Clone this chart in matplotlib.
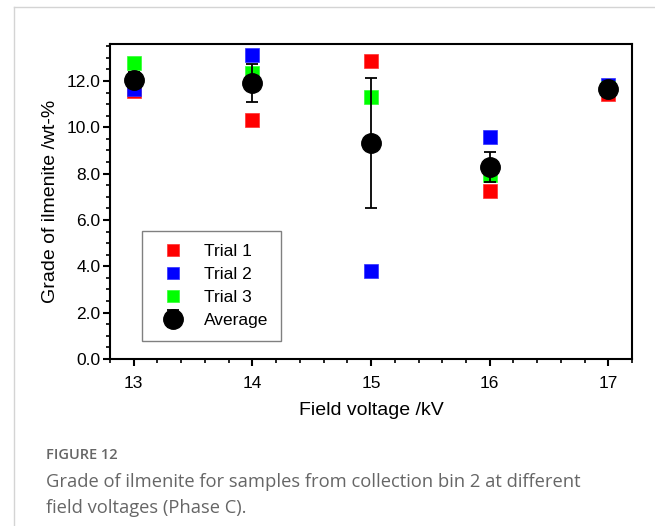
import matplotlib.pyplot as plt
from matplotlib.lines import Line2D
from matplotlib.ticker import MultipleLocator

plt.rcParams['font.family'] = ['Liberation Sans', 'DejaVu Sans']

voltage = [13, 14, 15, 16, 17]
trial1 = [11.57, 10.31, 12.86, 7.27, 11.45]
trial2 = [11.65, 13.12, 3.80, 9.57, 11.83]
trial3 = [12.79, 12.33, 11.32, 7.94, 11.70]
average = [12.04, 11.92, 9.33, 8.27, 11.66]
err = [0.35, 0.83, 2.80, 0.65, 0.12]

fig = plt.figure(figsize=(6.55, 5.26), dpi=100)
ax = fig.add_axes([0.168, 0.3175, 0.797, 0.599])

ax.plot(voltage, trial1, 's', color='#ff0000', ms=9.5, mec='#ff3030', mew=0.5, label='Trial 1', zorder=3)
ax.plot(voltage, trial2, 's', color='#0000ff', ms=9.5, mec='#3030ff', mew=0.5, label='Trial 2', zorder=3)
ax.plot(voltage, trial3, 's', color='#00ff00', ms=9.5, mec='#30ff30', mew=0.5, label='Trial 3', zorder=3)
ax.errorbar(voltage, average, yerr=err, fmt='o', color='black', ms=14, ecolor='black',
            elinewidth=1.3, capsize=4.5, capthick=1.3, label='Average', zorder=4)

ax.set_xlim(12.8, 17.2)
ax.set_ylim(0, 13.6)
ax.xaxis.set_major_locator(MultipleLocator(1))
ax.xaxis.set_minor_locator(MultipleLocator(0.2))
ax.yaxis.set_major_locator(MultipleLocator(2))
ax.yaxis.set_minor_locator(MultipleLocator(0.5))
ax.yaxis.set_major_formatter(plt.FormatStrFormatter('%.1f'))
ax.tick_params(which='major', direction='out', length=5, width=1.5, labelsize=12.5)
ax.tick_params(which='minor', direction='out', length=3, width=1.2)
ax.tick_params(axis='x', which='major', pad=7)
ax.tick_params(axis='y', which='major', pad=2)
for s in ax.spines.values():
    s.set_linewidth(1.5)

ax.set_xlabel('Field voltage /kV', fontsize=14, labelpad=8)
ax.set_ylabel('Grade of ilmenite /wt-%', fontsize=14, labelpad=5)

leg = ax.legend(loc='lower left', bbox_to_anchor=(0.045, 0.03), fontsize=12.5, fancybox=False,
                edgecolor='#808080', framealpha=1, handletextpad=0.8, borderpad=0.75,
                labelspacing=0.45, numpoints=1)
leg.get_frame().set_linewidth(1.0)
for h in leg.legend_handles[:3]:
    h.set_markersize(9)

# page frame lines
fig.add_artist(Line2D([0.0214, 0.0214], [0, 0.9867], color='#d4d4d4', lw=1))
fig.add_artist(Line2D([0.0214, 1.0], [0.9867, 0.9867], color='#d4d4d4', lw=1))

fig.text(46 / 655, 1 - 459 / 526, 'FIGURE 12', fontsize=10.5, color='#666666',
         family=['Open Sans', 'DejaVu Sans'], fontweight='semibold', va='baseline')
fig.text(46 / 655, 1 - 487 / 526, 'Grade of ilmenite for samples from collection bin 2 at different',
         fontsize=13.2, color='#666666', family=['Open Sans', 'DejaVu Sans'], va='baseline')
fig.text(46 / 655, 1 - 513 / 526, 'field voltages (Phase C).',
         fontsize=13.2, color='#666666', family=['Open Sans', 'DejaVu Sans'], va='baseline')

fig.savefig('out.png', dpi=100)
